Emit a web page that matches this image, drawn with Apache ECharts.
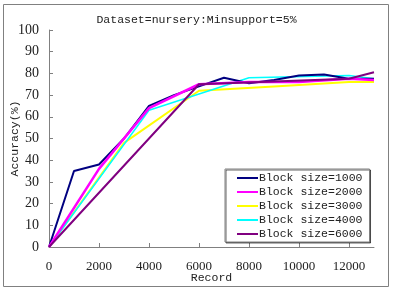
<!DOCTYPE html>
<html lang="en">
<head>
    <meta charset="UTF-8">
    <title>Accuracy vs Record</title>
    <style>
        html, body { margin: 0; padding: 0; background: #fff; }
        #main { width: 393px; height: 290px; }
    </style>
    <script src="https://cdn.jsdelivr.net/npm/echarts@6/dist/echarts.min.js"></script>
</head>
<body>
<div id="main"></div>
<script type="text/javascript">
    // block size labels
    var names = ['Block size=1000', 'Block size=2000', 'Block size=3000', 'Block size=4000', 'Block size=6000'];
    var colors = ['#000080', '#ff00ff', '#ffff00', '#00ffff', '#800080'];

    // records processed (x) and accuracy (%) for each block size
    var rec1000 = [0, 1000, 2000, 3000, 4000, 5000, 6000, 7000, 8000, 9000, 10000, 11000, 12000, 13000];
    var acc1000 = [0, 35, 38, 50, 65, 70, 74, 78, 75.5, 77, 79, 79.5, 77.5, 77.5];
    var rec2000 = [0, 2000, 4000, 6000, 8000, 10000, 12000, 13000];
    var acc2000 = [0, 36, 64, 75, 76, 76, 77.5, 77];
    var rec3000 = [0, 3000, 6000, 9000, 12000, 13000];
    var acc3000 = [0, 48, 72, 74, 76, 76];
    var rec4000 = [0, 4000, 8000, 12000, 13000];
    var acc4000 = [0, 63, 78, 79, 77.5];
    var rec6000 = [0, 6000, 12000, 13000];
    var acc6000 = [0, 75, 77.5, 80.5];

    var recs = [rec1000, rec2000, rec3000, rec4000, rec6000];
    var accs = [acc1000, acc2000, acc3000, acc4000, acc6000];
    var widths = [2, 2.5, 2, 1.5, 2];
    var zs = [3, 4, 2, 2, 5];

    function pairs(xs, ys) {
        var out = [];
        for (var i = 0; i < xs.length; i++) {
            out.push([xs[i], ys[i]]);
        }
        return out;
    }

    var series = [];
    for (var i = 0; i < names.length; i++) {
        series.push({
            name: names[i],
            type: 'line',
            showSymbol: false,
            symbol: 'none',
            z: zs[i],
            lineStyle: { color: colors[i], width: widths[i] },
            itemStyle: { color: colors[i] },
            data: pairs(recs[i], accs[i])
        });
    }

    var myChart = echarts.init(document.getElementById('main'));
    var option = {
        animation: false,
        title: {
            text: 'Dataset=nursery:Minsupport=5%',
            left: 'center',
            top: 9,
            textStyle: { fontFamily: 'Liberation Mono', fontSize: 11.5, fontWeight: 'normal', color: '#222' }
        },
        graphic: [{
            type: 'rect',
            shape: { x: 3.5, y: 4.5, width: 385, height: 282 },
            style: { fill: 'none', stroke: '#808080', lineWidth: 1 },
            silent: true
        }],
        grid: { left: 49, right: 19, top: 30, bottom: 43, containLabel: false, outerBoundsMode: 'none' },
        legend: {
            data: names,
            orient: 'vertical',
            left: 225,
            top: 169,
            padding: [3, 7, 2, 12],
            itemGap: 2,
            itemWidth: 21,
            itemHeight: 2,
            icon: 'rect',
            backgroundColor: '#fff',
            borderColor: '#808080',
            borderWidth: 1,
            shadowColor: 'rgba(0,0,0,0.6)',
            shadowOffsetX: 1,
            shadowOffsetY: 1,
            textStyle: { fontFamily: 'Liberation Mono', fontSize: 11.5, color: '#222', padding: [0, 0, 0, -4] }
        },
        xAxis: {
            type: 'value',
            min: 0,
            max: 13000,
            interval: 2000,
            name: 'Record',
            nameLocation: 'middle',
            nameGap: 25,
            nameMoveOverlap: false,
            nameTextStyle: { fontFamily: 'Liberation Mono', fontSize: 11.5, color: '#222' },
            axisLine: { lineStyle: { color: '#808080' } },
            axisTick: { inside: true, length: 4, lineStyle: { color: '#808080' } },
            splitLine: { show: false },
            axisLabel: {
                showMaxLabel: false, margin: 13, fontFamily: 'Liberation Serif', fontSize: 13, color: '#222',
                formatter: function (v) { return String(v); }
            }
        },
        yAxis: {
            type: 'value',
            min: 0,
            max: 100,
            interval: 10,
            name: 'Accuracy(%)',
            nameLocation: 'middle',
            nameGap: 28,
            nameMoveOverlap: false,
            nameTextStyle: { fontFamily: 'Liberation Mono', fontSize: 11.5, color: '#222' },
            axisLine: { show: true, lineStyle: { color: '#808080' } },
            axisTick: { show: true, inside: true, length: 4, lineStyle: { color: '#808080' } },
            splitLine: { show: false },
            axisLabel: { margin: 10, fontFamily: 'Liberation Serif', fontSize: 14, color: '#222' }
        },
        series: series
    };
    myChart.setOption(option);
</script>
</body>
</html>
